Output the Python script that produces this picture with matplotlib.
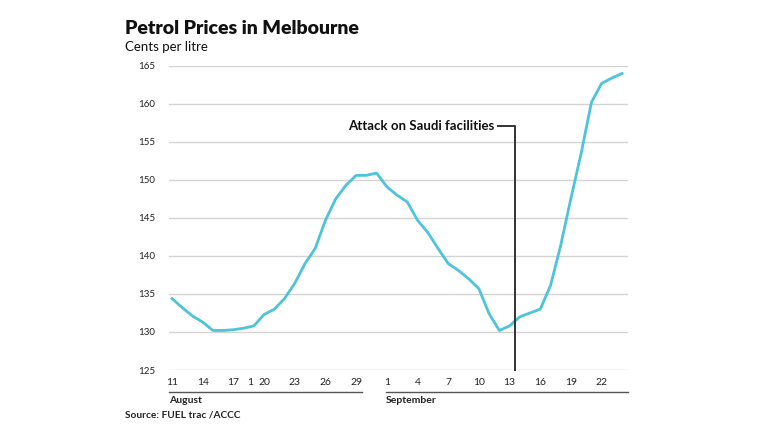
import matplotlib.pyplot as plt
import matplotlib.transforms as mtransforms

# days counted from 11 August
days = list(range(45))
prices = [134.4, 133.2, 132.1, 131.3, 130.2, 130.2, 130.3, 130.5, 130.8, 132.3,
          133.0, 134.4, 136.4, 139.0, 141.0, 144.7, 147.5, 149.3, 150.6, 150.6,
          150.9, 149.1, 148.0, 147.1, 144.7, 143.1, 141.0, 139.0, 138.1, 137.0,
          135.7, 132.4, 130.2, 130.8, 132.0, 132.5, 133.0, 136.1, 141.4, 147.6,
          153.5, 160.2, 162.7, 163.4, 164.0]

tick_pos = [0, 3, 6, 7.6, 9, 12, 15, 18, 21, 24, 27, 30, 33, 36, 39, 42]
tick_labels = ['11', '14', '17', '1', '20', '23', '26', '29',
               '1', '4', '7', '10', '13', '16', '19', '22']
yticks = [125, 130, 135, 140, 145, 150, 155, 160, 165]
months = ['August', 'September']
month_spans = [(-0.3, 18.6), (20.9, 44.6)]
event_day = 33.5
event_label = 'Attack on Saudi facilities'

plt.rcParams['font.family'] = ['Lato', 'DejaVu Sans']

fig = plt.figure(figsize=(7.68, 4.32), dpi=100)
ax = fig.add_axes([0.22, 0.1435, 0.598, 0.704])

for y in yticks:
    ax.axhline(y, color='#d4d4d4', lw=1, zorder=0)

ax.plot(days, prices, color='#4dc3dc', lw=2, zorder=3)

ax.set_xlim(-0.3, 44.6)
ax.set_ylim(125, 165)
ax.set_yticks(yticks)
ax.set_yticklabels([str(v) for v in yticks], fontsize=7, color='#222222')
ax.set_xticks(tick_pos)
ax.set_xticklabels(tick_labels, fontsize=7.5, color='#222222')
ax.tick_params(axis='both', length=0)
ax.tick_params(axis='y', pad=10)
ax.tick_params(axis='x', pad=6)
for s in ax.spines.values():
    s.set_visible(False)

trans = mtransforms.blended_transform_factory(ax.transData, ax.transAxes)
for name, (x0, x1) in zip(months, month_spans):
    ax.plot([x0, x1], [-0.072, -0.072], color='#555555', lw=1,
            transform=trans, clip_on=False)
    ax.text(x0, -0.085, name, transform=trans, fontsize=7.5,
            fontweight='bold', color='#222222', va='top', ha='left')

# event marker
y_ann = 1 - (126 - 66) / 304
ax.plot([event_day - 1.65, event_day, event_day], [y_ann, y_ann, 0],
        color='#333333', lw=1.4, transform=trans, clip_on=False, zorder=4)
ax.text(event_day - 2.0, y_ann, event_label, transform=trans, fontsize=9.5,
        fontweight='bold', color='#111111', ha='right', va='center')

fig.text(125 / 768, 1 - 28 / 432, 'Petrol Prices in Melbourne', fontsize=14,
         fontweight='heavy', color='#111111', va='center', ha='left')
fig.text(125 / 768, 1 - 47 / 432, 'Cents per litre', fontsize=9.5,
         color='#111111', va='center', ha='left')
fig.text(125 / 768, 1 - 415 / 432, 'Source: FUEL trac /ACCC', fontsize=7.3,
         fontweight='bold', color='#222222', va='center', ha='left')

fig.savefig('out.png', dpi=100, facecolor='white')
